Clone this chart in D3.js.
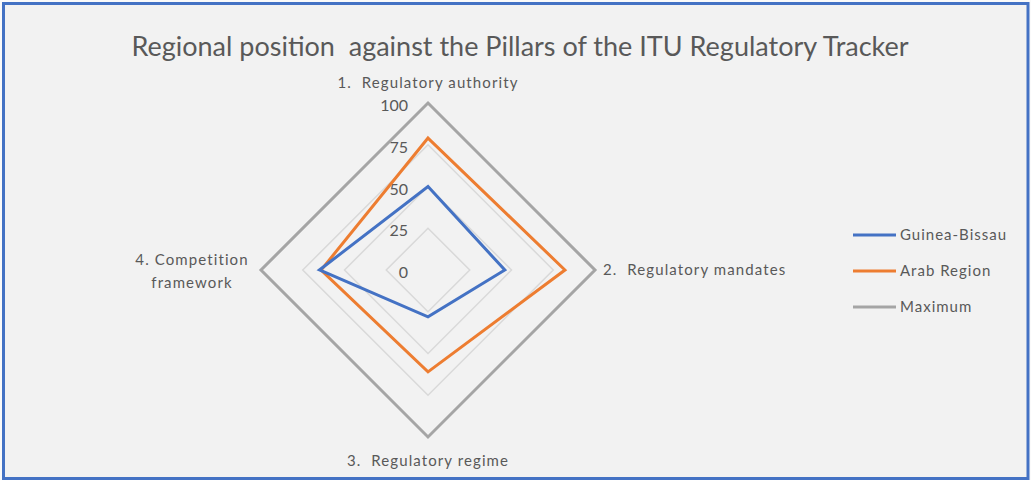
<!DOCTYPE html>
<html>
<head>
<meta charset="utf-8">
<script src="https://cdn.jsdelivr.net/npm/d3@7"></script>
<style>
  html, body { margin: 0; padding: 0; background: #fafafa; }
  svg { display: block; }
  text { font-family: Lato, "Open Sans", sans-serif; fill: #595959; }
</style>
</head>
<body>
<div id="chart"></div>
<script>
// chart data
const title = 'Regional position\u00a0 against the Pillars of the ITU Regulatory Tracker';
const categories = [
  ['1.\u00a0 Regulatory authority'],
  ['2.\u00a0 Regulatory mandates'],
  ['3.\u00a0 Regulatory regime'],
  ['4. Competition', 'framework']
];
const ticks = [0, 25, 50, 75, 100];
const guineaBissau = [50, 46, 28, 65];
const arabRegion = [79, 82, 61, 64];
const maximum = [100, 100, 100, 100];
const seriesNames = ['Guinea-Bissau', 'Arab Region', 'Maximum'];
const seriesColors = ['#4472C4', '#ED7D31', '#A5A5A5'];

const width = 1031, height = 480;
const cx = 428, cy = 270, radius = 167;

const svg = d3.select('#chart').append('svg')
  .attr('width', width)
  .attr('height', height);

// chart area with blue frame
svg.append('rect')
  .attr('x', 3.5).attr('y', 3.5)
  .attr('width', 1024.5).attr('height', 475)
  .attr('fill', '#f2f2f2')
  .attr('stroke', '#4472C4')
  .attr('stroke-width', 3);

svg.append('text')
  .attr('x', 520).attr('y', 56)
  .attr('text-anchor', 'middle')
  .attr('font-size', 27)
  .text(title);

const r = d3.scaleLinear().domain([0, 100]).range([0, radius]);
const angle = i => i * Math.PI / 2;

const radar = d3.lineRadial()
  .angle((d, i) => angle(i))
  .radius(d => r(d))
  .curve(d3.curveLinearClosed);

const plot = svg.append('g').attr('transform', `translate(${cx},${cy})`);

// gridlines (the 100 ring sits under the Maximum series)
plot.selectAll('.grid')
  .data(ticks.slice(1))
  .join('path')
  .attr('class', 'grid')
  .attr('d', t => radar(categories.map(() => t)))
  .attr('fill', 'none')
  .attr('stroke', '#d9d9d9')
  .attr('stroke-width', 1.5);

// tick labels
plot.selectAll('.tick')
  .data(ticks)
  .join('text')
  .attr('class', 'tick')
  .attr('x', -20)
  .attr('y', t => -r(t) + 8)
  .attr('text-anchor', 'end')
  .attr('font-size', 16)
  .text(t => t);

// series, drawn back to front
const series = [guineaBissau, arabRegion, maximum];
plot.selectAll('.series')
  .data(series.map((values, i) => ({ values, i })).reverse())
  .join('path')
  .attr('class', 'series')
  .attr('d', d => radar(d.values))
  .attr('fill', 'none')
  .attr('stroke', d => seriesColors[d.i])
  .attr('stroke-width', 3)
  .attr('stroke-linejoin', 'miter');

// category labels
const labelPos = [
  { x: 0, y: -182, anchor: 'middle' },
  { x: 175, y: 5, anchor: 'start' },
  { x: 0, y: 196, anchor: 'middle' },
  { x: -236, y: -5, anchor: 'middle' }
];
categories.forEach((lines, i) => {
  const p = labelPos[i];
  const t = plot.append('text')
    .attr('x', p.x).attr('y', p.y)
    .attr('text-anchor', p.anchor)
    .attr('font-size', 15)
    .attr('letter-spacing', 1.1);
  lines.forEach((line, j) => {
    t.append('tspan')
      .attr('x', p.x)
      .attr('dy', j === 0 ? 0 : 23)
      .text(line);
  });
});

// legend
const legend = svg.append('g').attr('transform', 'translate(853,235)');
const items = legend.selectAll('g')
  .data(seriesNames)
  .join('g')
  .attr('transform', (d, i) => `translate(0,${i * 36})`);
items.append('line')
  .attr('x1', 0).attr('x2', 43)
  .attr('stroke', (d, i) => seriesColors[i])
  .attr('stroke-width', 3);
items.append('text')
  .attr('x', 47).attr('y', 5)
  .attr('font-size', 15)
  .attr('letter-spacing', 1)
  .text(d => d);
</script>
</body>
</html>
